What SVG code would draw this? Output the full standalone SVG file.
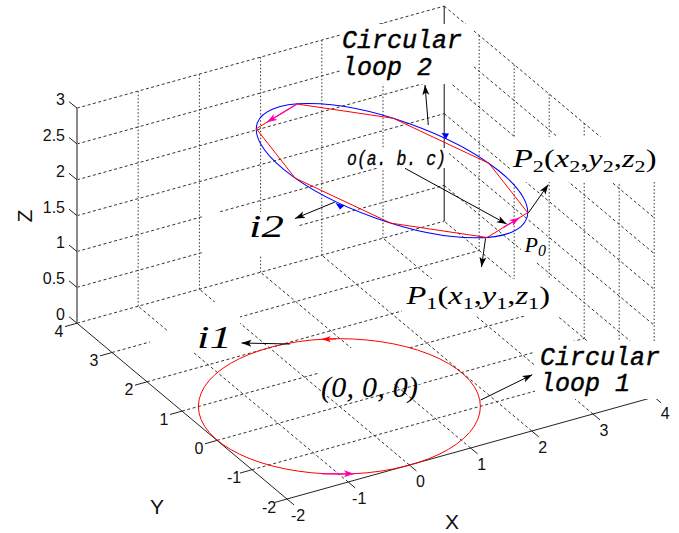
<svg xmlns="http://www.w3.org/2000/svg" width="679" height="533" viewBox="0 0 679 533">
<style>
.g{fill:none;stroke:#333;stroke-width:1;stroke-dasharray:3 2.5}
.gv{fill:none;stroke:#333;stroke-width:1;stroke-dasharray:1.5 2}
.ax{fill:none;stroke:#222;stroke-width:1}
.tk{font-family:"Liberation Sans",Arial,sans-serif;font-size:16px;fill:#111}
.al{font-family:"Liberation Sans",Arial,sans-serif;font-size:21px;fill:#111}
.mono{font-family:"Liberation Mono","Courier New",monospace;font-style:italic;fill:#000;stroke:#000;stroke-width:0.45}
.ser{font-family:"Liberation Serif","Times New Roman",serif;fill:#000}
.er{fill:#fff}
.arr{fill:none;stroke:#000;stroke-width:1;marker-end:url(#ah)}
.red{fill:none;stroke:#f00;stroke-width:1}
.blue{fill:none;stroke:#00f;stroke-width:1}
.pink{fill:none;stroke:#f0a;stroke-width:1.2;marker-end:url(#ap)}
</style>
<defs>
<marker id="ah" viewBox="0 0 10 8" refX="10" refY="4" markerWidth="10" markerHeight="8" markerUnits="userSpaceOnUse" orient="auto"><path d="M0,0.5 L10,4 L0,7.5 L2.5,4 Z" fill="#000"/></marker>
<marker id="ap" viewBox="0 0 10 8" refX="10" refY="4" markerWidth="10" markerHeight="8" markerUnits="userSpaceOnUse" orient="auto"><path d="M0,0.5 L10,4 L0,7.5 L2.5,4 Z" fill="#f0a"/></marker>
<marker id="ar" viewBox="0 0 10 8" refX="10" refY="4" markerWidth="9" markerHeight="7" markerUnits="userSpaceOnUse" orient="auto"><path d="M0,0.5 L10,4 L0,7.5 L2.5,4 Z" fill="#f00"/></marker>
</defs>
<rect width="679" height="533" fill="#fff"/>
<g id="grid">
<path class="g" d="M348.2,482 L138.2,306.2 M409.4,465 L199.4,289.2 M470.6,448 L260.6,272.2 M531.8,431 L321.8,255.2 M593,414 L383,238.2 M654.2,397 L444.2,221.2 M252,469.7 L619.2,367.7 M217,440.4 L584.2,338.4 M182,411.1 L549.2,309.1 M147,381.8 L514.2,279.8 M112,352.5 L479.2,250.5 M77,323.2 L444.2,221.2 M77,287.35 L444.2,185.35 M77,251.5 L444.2,149.5 M77,215.65 L444.2,113.65 M77,179.8 L444.2,77.8 M77,143.95 L444.2,41.95 M77,108.1 L444.2,6.1 M444.2,185.35 L654.2,361.15 M444.2,149.5 L654.2,325.3 M444.2,113.65 L654.2,289.45 M444.2,77.8 L654.2,253.6 M444.2,41.95 L654.2,217.75 M444.2,6.1 L654.2,181.9"/>
<path class="gv" d="M138.2,306.2 V91.1 M199.4,289.2 V74.1 M260.6,272.2 V57.1 M321.8,255.2 V40.1 M383,238.2 V23.1 M479.2,250.5 V35.4 M514.2,279.8 V64.7 M549.2,309.1 V94 M584.2,338.4 V123.3 M619.2,367.7 V152.6 M654.2,397 V181.9"/>
<path d="M444.2,6.1 V221.2" stroke="#111" stroke-width="1" fill="none"/>
</g>
<g id="axes">
<path d="M77,108 V323.2" stroke="#8a8a8a" stroke-width="2" fill="none"/>
<path class="ax" d="M77,323.2 L287,499 L654.2,397"/>
<path class="ax" d="M77,323.2 l-8,-6.5 M77,287.35 l-8,-6.5 M77,251.5 l-8,-6.5 M77,215.65 l-8,-6.5 M77,179.8 l-8,-6.5 M77,143.95 l-8,-6.5 M77,108.1 l-8,-6.5"/>
<path class="ax" d="M77,323.2 l-12,3.4 M112,352.5 l-12,3.4 M147,381.8 l-12,3.4 M182,411.1 l-12,3.4 M217,440.4 l-12,3.4 M252,469.7 l-12,3.4 M287,499 l-12,3.4"/>
<path class="ax" d="M287,499 l7,5.9 M348.2,482 l7,5.9 M409.4,465 l7,5.9 M470.6,448 l7,5.9 M531.8,431 l7,5.9 M593,414 l7,5.9 M654.2,397 l7,5.9"/>
</g>
<g id="erase">
<rect class="er" x="341" y="24" width="133" height="60"/>
<rect class="er" x="510" y="137" width="156" height="45"/>
<rect class="er" x="402" y="279" width="156" height="37"/>
<rect class="er" x="535" y="341" width="134" height="58"/>
<rect class="er" x="168" y="302" width="72" height="50"/>
<rect class="er" x="150" y="336" width="20" height="18"/>
<rect class="er" x="202" y="212" width="95" height="43"/>
<rect class="er" x="346" y="148" width="103" height="20"/>
<rect class="er" x="318" y="348" width="103" height="36"/>
<rect class="er" x="521" y="233" width="25" height="29"/>
</g>
<g id="ticklabels" class="tk">
<text x="65" y="319.7" text-anchor="end">0</text>
<text x="65" y="284" text-anchor="end">0.5</text>
<text x="65" y="248.3" text-anchor="end">1</text>
<text x="65" y="212.5" text-anchor="end">1.5</text>
<text x="65" y="176.8" text-anchor="end">2</text>
<text x="65" y="141" text-anchor="end">2.5</text>
<text x="65" y="105.3" text-anchor="end">3</text>
<text x="59" y="336.7" text-anchor="middle">4</text>
<text x="94" y="366" text-anchor="middle">3</text>
<text x="129" y="395.3" text-anchor="middle">2</text>
<text x="164" y="424.6" text-anchor="middle">1</text>
<text x="199" y="453.9" text-anchor="middle">0</text>
<text x="234" y="483.2" text-anchor="middle">-1</text>
<text x="269" y="512.5" text-anchor="middle">-2</text>
<text x="298" y="520.5" text-anchor="middle">-2</text>
<text x="359.2" y="503.5" text-anchor="middle">-1</text>
<text x="420.4" y="486.5" text-anchor="middle">0</text>
<text x="481.6" y="469.5" text-anchor="middle">1</text>
<text x="542.8" y="452.5" text-anchor="middle">2</text>
<text x="604" y="435.5" text-anchor="middle">3</text>
<text x="665.2" y="418.5" text-anchor="middle">4</text>
</g>
<g id="axislabels" class="al">
<text x="452" y="528.5" text-anchor="middle">X</text>
<text x="157" y="514" text-anchor="middle">Y</text>
<text x="31.5" y="216" text-anchor="middle" transform="rotate(-90 31.5 216)">Z</text>
</g>
<g id="loop1">
<ellipse class="red" cx="339.4" cy="406.4" rx="141" ry="67.7"/>
<path d="M336,339 L322,339.2" stroke="#f00" stroke-width="1" fill="none" marker-end="url(#ar)"/>
<path class="pink" d="M322,473.8 L354,473.8"/>
</g>
<g id="loop2">
<ellipse class="blue" cx="392" cy="170.7" rx="142.9" ry="50.15" transform="rotate(19.5 392 170.7)"/>
<polygon class="red" points="527.7,212.7 488.9,163.3 393.3,118.3 297,104 256.3,128.7 295.1,178.1 390.7,223.1 487,237.5"/>
<path class="pink" d="M297,104 L267,122.2"/>
<path class="pink" d="M503.2,227.6 L519.5,217.7"/>
<polygon points="441.5,133 449,133.5 446,139" fill="#00f"/>
<polygon points="335.5,203 344.5,205.5 340,209.5" fill="#00f"/>
</g>
<g id="connectors">
<path class="arr" d="M428.3,125 L425,85"/>
<path class="arr" d="M405,168.3 L506.7,224"/>
<path class="arr" d="M528.3,213 L548.3,184.5"/>
<path class="arr" d="M485.5,238.5 L481.5,267"/>
<path class="arr" d="M335,202 L295,218.5"/>
<path class="arr" d="M290,344 L241.5,343"/>
<path class="arr" d="M480.7,400 L532.3,374.7"/>
</g>
<g id="label-loop2" class="mono" font-size="25">
<text x="342" y="48">Circular</text>
<text x="342" y="75">loop 2</text>
</g>
<g id="label-loop1" class="mono" font-size="25">
<text x="540" y="364.5">Circular</text>
<text x="540" y="391">loop 1</text>
</g>
<g id="label-o" class="mono" font-size="20">
<text x="347" y="165" textLength="99" lengthAdjust="spacingAndGlyphs" stroke-width="0.3">o(a. b. c)</text>
</g>
<g id="label-origin" class="ser">
<text x="321" y="396.5" font-size="30" font-style="italic" textLength="97">(0, 0, 0)</text>
</g>
<g id="label-i1" class="ser">
<text transform="translate(197 348) scale(1.4 1)" font-size="32" font-style="italic">i1</text>
</g>
<g id="label-i2" class="ser">
<text transform="translate(249 237) scale(1.4 1)" font-size="32" font-style="italic">i2</text>
</g>
<g id="label-P2" class="ser">
<text transform="translate(513 166.5) scale(1.3 1)" font-size="25"><tspan font-style="italic">P</tspan><tspan font-size="17" dy="5">2</tspan><tspan dy="-5">(</tspan><tspan font-style="italic">x</tspan><tspan font-size="17" dy="5">2</tspan><tspan dy="-5">,</tspan><tspan font-style="italic">y</tspan><tspan font-size="17" dy="5">2</tspan><tspan dy="-5">,</tspan><tspan font-style="italic">z</tspan><tspan font-size="17" dy="5">2</tspan><tspan dy="-5">)</tspan></text>
</g>
<g id="label-P1" class="ser">
<text transform="translate(406.5 304.3) scale(1.3 1)" font-size="25"><tspan font-style="italic">P</tspan><tspan font-size="17" dy="5">1</tspan><tspan dy="-5">(</tspan><tspan font-style="italic">x</tspan><tspan font-size="17" dy="5">1</tspan><tspan dy="-5">,</tspan><tspan font-style="italic">y</tspan><tspan font-size="17" dy="5">1</tspan><tspan dy="-5">,</tspan><tspan font-style="italic">z</tspan><tspan font-size="17" dy="5">1</tspan><tspan dy="-5">)</tspan></text>
</g>
<g id="label-P0" class="ser">
<text x="524.5" y="252" font-size="22" font-style="italic">P<tspan font-size="16" dy="4">0</tspan></text>
</g>
</svg>
